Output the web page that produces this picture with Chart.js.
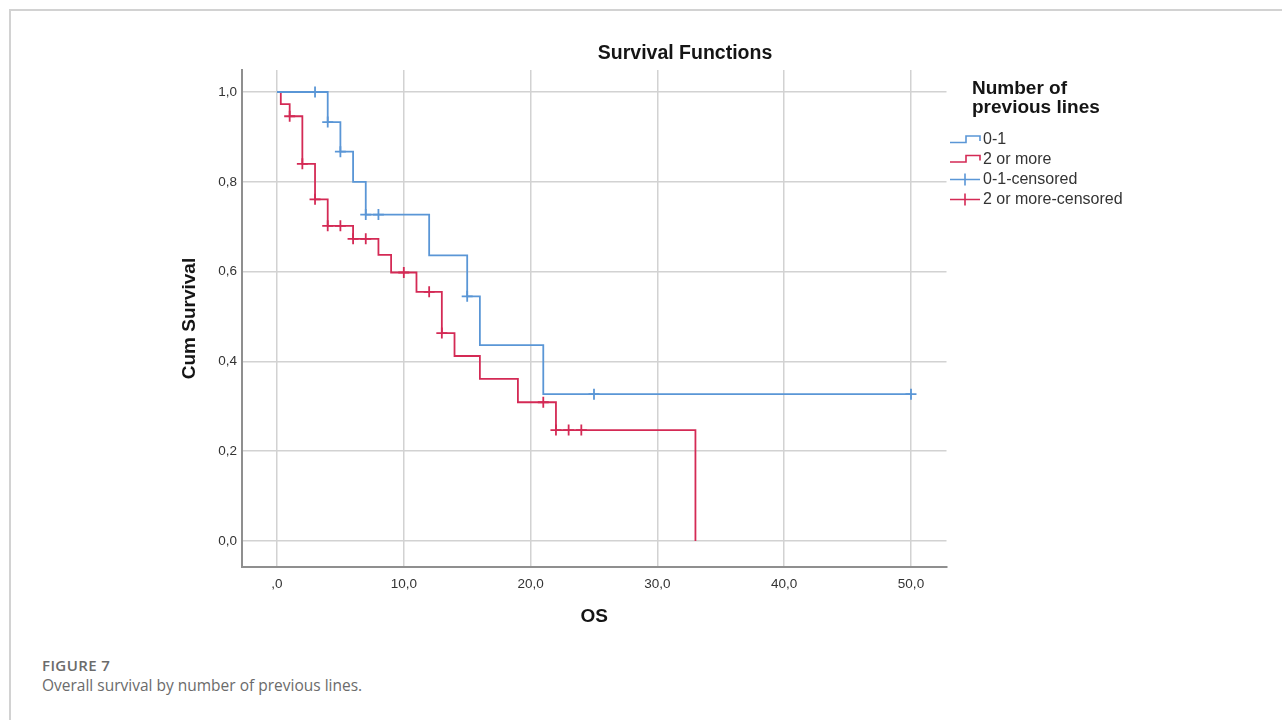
<!DOCTYPE html>
<html>
<head>
<meta charset="utf-8">
<script src="https://cdn.jsdelivr.net/npm/chart.js@4.4.1/dist/chart.umd.min.js"></script>
<style>
  html, body { margin: 0; padding: 0; background: #fff; }
  #page { position: relative; width: 1282px; height: 720px; overflow: hidden; }
  #frame { position: absolute; left: 9px; top: 9px; width: 1400px; height: 800px;
           border-left: 2px solid #d2d2d2; border-top: 2px solid #d2d2d2; }
  #chartBox { position: absolute; left: 0; top: 0; width: 1282px; height: 640px; }
  .cap { position: absolute; left: 42px; font-family: "Open Sans", sans-serif; color: #6b6b6b; line-height: 20px; }
  #capTitle { top: 655px; font-size: 15px; font-weight: 600; letter-spacing: 0.4px; }
  #capText { top: 675px; font-size: 15.5px; }
</style>
</head>
<body>
<div id="page">
  <div id="frame"></div>
  <div id="chartBox"><canvas id="survivalChart" width="1282" height="640"></canvas></div>
  <div class="cap" id="capTitle">FIGURE 7</div>
  <div class="cap" id="capText">Overall survival by number of previous lines.</div>
</div>
<script>
// Kaplan-Meier steps
const blueTimes = [0, 4, 5, 6, 7, 12, 15, 16, 21, 50];
const blueSurv  = [1, 0.933, 0.867, 0.8, 0.727, 0.636, 0.545, 0.436, 0.327, 0.327];
const redTimes  = [0, 0.3, 1, 2, 3, 4, 6, 8, 9, 11, 13, 14, 16, 19, 22, 33];
const redSurv   = [1, 0.973, 0.946, 0.84, 0.761, 0.702, 0.673, 0.637, 0.598, 0.555, 0.463, 0.412, 0.361, 0.309, 0.247, 0];

// censored marks
const blueCensTimes = [3, 4, 5, 7, 8, 15, 25, 50];
const blueCensSurv  = [1, 0.933, 0.867, 0.727, 0.727, 0.545, 0.327, 0.327];
const redCensTimes  = [1, 2, 3, 4, 5, 6, 7, 10, 12, 13, 21, 22, 23, 24];
const redCensSurv   = [0.946, 0.84, 0.761, 0.702, 0.702, 0.673, 0.673, 0.598, 0.555, 0.463, 0.309, 0.247, 0.247, 0.247];

const xTicks = [0, 10, 20, 30, 40, 50];
const xTickLabels = [',0', '10,0', '20,0', '30,0', '40,0', '50,0'];
const yTicks = [0, 0.2, 0.4, 0.6, 0.8, 1.0];
const yTickLabels = ['0,0', '0,2', '0,4', '0,6', '0,8', '1,0'];

const legendTitle = ['Number of', 'previous lines'];
const legendLabels = ['0-1', '2 or more', '0-1-censored', '2 or more-censored'];

const BLUE = '#5a96d6';
const RED = '#d42a55';
const FONT = '"Liberation Sans", Arial, sans-serif';

const toPoints = (xs, ys) => xs.map((x, i) => ({ x: x, y: ys[i] }));

// title + legend drawn on the canvas
const sideDecor = {
    id: 'sideDecor',
    afterDraw(chart) {
        const ctx = chart.ctx;
        ctx.save();
        ctx.fillStyle = '#151515';
        ctx.textBaseline = 'middle';
        ctx.textAlign = 'center';
        ctx.font = 'bold 19.5px ' + FONT;
        ctx.fillText('Survival Functions', 685, 54);

        ctx.textAlign = 'left';
        ctx.font = 'bold 19px ' + FONT;
        ctx.fillText(legendTitle[0], 972, 89);
        ctx.fillText(legendTitle[1], 972, 108);

        const rows = [140, 159.5, 179.5, 199.5];
        const cols = [BLUE, RED, BLUE, RED];
        ctx.lineWidth = 1.6;
        rows.forEach((y, i) => {
            ctx.strokeStyle = cols[i];
            ctx.beginPath();
            if (i < 2) {
                ctx.moveTo(950, y + 2.5);
                ctx.lineTo(966, y + 2.5);
                ctx.lineTo(966, y - 4);
                ctx.lineTo(980, y - 4);
                ctx.lineTo(980, y + 1);
            } else {
                ctx.moveTo(950, y);
                ctx.lineTo(980, y);
                ctx.moveTo(965, y - 6);
                ctx.lineTo(965, y + 6);
            }
            ctx.stroke();
            ctx.fillStyle = '#333';
            ctx.font = '16px ' + FONT;
            ctx.fillText(legendLabels[i], 983, y);
        });
        ctx.restore();
    }
};

const ctx = document.getElementById('survivalChart').getContext('2d');
const survivalChart = new Chart(ctx, {
    type: 'line',
    data: {
        datasets: [
            {
                label: legendLabels[0],
                data: toPoints(blueTimes, blueSurv),
                borderColor: BLUE,
                borderWidth: 1.8,
                stepped: 'before',
                pointRadius: 0,
                fill: false
            },
            {
                label: legendLabels[1],
                data: toPoints(redTimes, redSurv),
                borderColor: RED,
                borderWidth: 1.8,
                stepped: 'before',
                pointRadius: 0,
                fill: false
            },
            {
                label: legendLabels[2],
                data: toPoints(blueCensTimes, blueCensSurv),
                showLine: false,
                pointStyle: 'cross',
                pointRadius: 5.5,
                pointBorderWidth: 1.8,
                pointBorderColor: BLUE,
                borderColor: BLUE
            },
            {
                label: legendLabels[3],
                data: toPoints(redCensTimes, redCensSurv),
                showLine: false,
                pointStyle: 'cross',
                pointRadius: 5.5,
                pointBorderWidth: 1.8,
                pointBorderColor: RED,
                borderColor: RED
            }
        ]
    },
    options: {
        responsive: false,
        animation: false,
        devicePixelRatio: 1,
        layout: {
            padding: { left: 170, right: 335.5, top: 70, bottom: 12 }
        },
        plugins: {
            legend: { display: false },
            title: { display: false },
            tooltip: { enabled: false }
        },
        scales: {
            x: {
                type: 'linear',
                min: -2.76,
                max: 52.8,
                afterBuildTicks: s => { s.ticks = xTicks.map(v => ({ value: v })); },
                afterFit: s => { s.height = 61; },
                ticks: {
                    color: '#333',
                    padding: 9,
                    font: { family: FONT, size: 13.5 },
                    callback: (v, i) => xTickLabels[i]
                },
                grid: { color: '#d2d2d2', lineWidth: 1.5, drawTicks: false },
                border: { color: '#8f8f8f', width: 2 },
                title: {
                    display: true,
                    text: 'OS',
                    color: '#151515',
                    padding: { top: 0, bottom: 0 },
                    font: { family: FONT, size: 19, weight: 'bold' }
                }
            },
            y: {
                type: 'linear',
                min: -0.058,
                max: 1.049,
                afterBuildTicks: s => { s.ticks = yTicks.map(v => ({ value: v })); },
                afterFit: s => { s.width = 72; },
                ticks: {
                    color: '#333',
                    padding: 5,
                    font: { family: FONT, size: 13.5 },
                    callback: (v, i) => yTickLabels[i]
                },
                grid: { color: '#d2d2d2', lineWidth: 1.5, drawTicks: false },
                border: { color: '#8f8f8f', width: 2 },
                title: {
                    display: true,
                    text: 'Cum Survival',
                    color: '#151515',
                    padding: { top: 8, bottom: 0 },
                    font: { family: FONT, size: 19, weight: 'bold' }
                }
            }
        }
    },
    plugins: [sideDecor]
});
</script>
</body>
</html>
